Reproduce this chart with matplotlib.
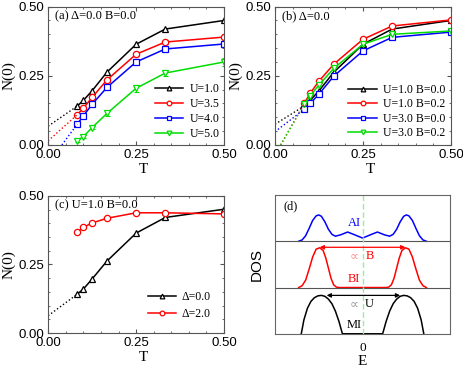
import numpy as np
import matplotlib
matplotlib.use('Agg')
import matplotlib.pyplot as plt
from matplotlib.ticker import MultipleLocator

plt.rcParams['font.family'] = ['Liberation Serif', 'DejaVu Serif']

# temperatures (same grid for every curve)
T = [0.083, 0.1, 0.125, 0.167, 0.25, 0.333, 0.5]

# panel (a): Delta=0, B=0
a_labels = ['U=1.0', 'U=3.5', 'U=4.0', 'U=5.0']
a_u10 = [0.141, 0.161, 0.196, 0.263, 0.364, 0.419, 0.450]
a_u35 = [0.110, 0.133, 0.172, 0.235, 0.328, 0.372, 0.390]
a_u40 = [0.076, 0.105, 0.147, 0.208, 0.300, 0.347, 0.365]
a_u50 = [0.016, 0.030, 0.063, 0.114, 0.205, 0.260, 0.300]
a_err35 = [0.004, 0.004, 0.005, 0.006, 0.007, 0.007, 0.008]
a_err40 = [0.005, 0.005, 0.006, 0.007, 0.009, 0.009, 0.011]
a_err50 = [0.006, 0.006, 0.007, 0.009, 0.012, 0.011, 0.013]
# dotted extrapolations: (T0, N0) start points
a_ext = [(0.0, 0.068), (0.0, 0.015), (0.039, 0.0)]

# panel (b): Delta=0
b_labels = ['U=1.0 B=0.0', 'U=1.0 B=0.2', 'U=3.0 B=0.0', 'U=3.0 B=0.2']
b_u10b0 = [0.141, 0.161, 0.196, 0.263, 0.364, 0.419, 0.450]
b_u10b2 = [0.150, 0.187, 0.231, 0.292, 0.382, 0.430, 0.452]
b_u30b0 = [0.129, 0.150, 0.184, 0.249, 0.340, 0.389, 0.408]
b_u30b2 = [0.147, 0.178, 0.217, 0.277, 0.364, 0.400, 0.412]
b_ext = [(0.0, 0.075), (0.016, 0.0), (0.0, 0.048), (0.016, 0.0)]

# panel (c): U=1.0, B=0
c_labels = ['Δ=0.0', 'Δ=2.0']
c_d0 = [0.142, 0.160, 0.197, 0.262, 0.364, 0.421, 0.451]
c_d2 = [0.367, 0.385, 0.401, 0.418, 0.438, 0.438, 0.434]
c_ext = (0.0, 0.063)

# panel (d): schematic DOS
blue_E = [-0.73, -0.69, -0.65, -0.61, -0.57, -0.53, -0.50, -0.47, -0.43, -0.39, -0.35,
          -0.31, -0.25, -0.17, -0.09, 0.0,
          0.09, 0.17, 0.25, 0.31, 0.35, 0.39, 0.43, 0.47, 0.50, 0.53, 0.57, 0.61,
          0.65, 0.69, 0.73]
blue_D = [2.00, 2.03, 2.12, 2.28, 2.45, 2.55, 2.57, 2.54, 2.42, 2.26, 2.15,
          2.11, 2.14, 2.20, 2.14, 2.07,
          2.14, 2.20, 2.14, 2.11, 2.15, 2.26, 2.42, 2.54, 2.57, 2.55, 2.45, 2.28,
          2.12, 2.03, 2.00]
red_E = [-0.73, -0.69, -0.65, -0.61, -0.57, -0.53, -0.49, -0.45, -0.42, -0.39, -0.36,
         -0.33, -0.30, -0.27,
         0.27, 0.30, 0.33, 0.36, 0.39, 0.42, 0.45, 0.49, 0.53, 0.57, 0.61, 0.65,
         0.69, 0.73]
red_D = [1.00, 1.04, 1.16, 1.40, 1.66, 1.83, 1.86, 1.80, 1.64, 1.42, 1.20,
         1.06, 1.01, 1.00,
         1.00, 1.01, 1.06, 1.20, 1.42, 1.64, 1.80, 1.86, 1.83, 1.66, 1.40, 1.16,
         1.04, 1.00]
black_E = [-0.70, -0.67, -0.63, -0.59, -0.55, -0.51, -0.47, -0.43, -0.39, -0.35,
           -0.31, -0.27, -0.23,
           0.23, 0.27, 0.31, 0.35, 0.39, 0.43, 0.47, 0.51, 0.55, 0.59, 0.63, 0.67, 0.70]
black_D = [0.00, 0.30, 0.55, 0.70, 0.78, 0.82, 0.83, 0.81, 0.75, 0.65,
           0.49, 0.27, 0.00,
           0.00, 0.27, 0.49, 0.65, 0.75, 0.81, 0.83, 0.82, 0.78, 0.70, 0.55, 0.30, 0.00]

fig = plt.figure(figsize=(4.63, 3.68), dpi=100)
ax_a = fig.add_axes([0.104, 0.606, 0.380, 0.376])
ax_b = fig.add_axes([0.594, 0.606, 0.380, 0.376])
ax_c = fig.add_axes([0.104, 0.095, 0.380, 0.373])
ax_d = fig.add_axes([0.594, 0.093, 0.378, 0.377])

tick_font = {'family': 'Liberation Sans', 'size': 9.5}
mk = dict(markersize=4.5, markerfacecolor='white', markeredgewidth=0.9, linewidth=1.1)
leg = dict(loc='lower right', fontsize=8.5, frameon=False, handlelength=2.4,
           handletextpad=0.5, markerscale=0.75)


def style_T_axes(ax, ylabel=True):
    ax.set_xlim(0, 0.5)
    ax.set_ylim(0, 0.5)
    ax.set_xticks([0, 0.25, 0.5])
    ax.set_yticks([0, 0.25, 0.5])
    ax.xaxis.set_minor_locator(MultipleLocator(0.05))
    ax.yaxis.set_minor_locator(MultipleLocator(0.05))
    ax.tick_params(which='both', direction='in', top=True, right=True, color='#555555')
    ax.tick_params(which='major', length=3, pad=3)
    ax.tick_params(which='minor', length=1.5)
    ax.set_xticklabels(['0.00', '0.25', '0.50'], fontdict=tick_font)
    ax.set_yticklabels(['0.00', '0.25', '0.50'], fontdict=tick_font)
    for s in ax.spines.values():
        s.set_color('#555555')
        s.set_linewidth(0.8)
    ax.set_xlabel('T', fontsize=11, labelpad=0)
    ax.xaxis.set_label_coords(0.54, -0.13)
    if ylabel:
        ax.set_ylabel('N(0)', fontsize=11, labelpad=2)


def dotted(ax, start, first_T, first_N, color):
    ax.plot([start[0], first_T], [start[1], first_N], ':', color=color, linewidth=1.0)


# ---- panel (a)
a_cols = ['black', 'red', 'blue', '#00dd00']
a_marks = ['^', 'o', 's', 'v']
a_series = [a_u10, a_u35, a_u40, a_u50]
a_errs = [None, a_err35, a_err40, a_err50]
for ys, err, c, m, lab in zip(a_series, a_errs, a_cols, a_marks, a_labels):
    if err is not None:
        ax_a.errorbar(T, ys, yerr=err, fmt='none', ecolor=c, capsize=1.8,
                      elinewidth=0.8, capthick=0.8)
    ax_a.plot(T, ys, color=c, marker=m, label=lab, **mk)
for st, ys, c in zip(a_ext, a_series[:3], a_cols[:3]):
    dotted(ax_a, st, T[0], ys[0], c)
style_T_axes(ax_a)
ax_a.text(0.04, 0.93, '(a) Δ=0.0 B=0.0', transform=ax_a.transAxes, fontsize=9, va='center')
ax_a.legend(labelspacing=0.25, borderaxespad=0.0, **leg)

# ---- panel (b)
b_cols = ['black', 'red', 'blue', '#00dd00']
b_marks = ['^', 'o', 's', 'v']
b_series = [b_u10b0, b_u10b2, b_u30b0, b_u30b2]
for ys, c, m, lab in zip(b_series, b_cols, b_marks, b_labels):
    ax_b.plot(T, ys, color=c, marker=m, label=lab, **mk)
for st, ys, c in zip(b_ext, b_series, b_cols):
    dotted(ax_b, st, T[0], ys[0], c)
style_T_axes(ax_b)
ax_b.text(0.04, 0.93, '(b) Δ=0.0', transform=ax_b.transAxes, fontsize=9, va='center')
ax_b.legend(labelspacing=0.2, borderaxespad=0.1, **leg)

# ---- panel (c)
ax_c.plot(T, c_d0, color='black', marker='^', label=c_labels[0], **mk)
ax_c.plot(T, c_d2, color='red', marker='o', label=c_labels[1], **mk)
dotted(ax_c, c_ext, T[0], c_d0[0], 'black')
style_T_axes(ax_c)
ax_c.text(0.04, 0.93, '(c) U=1.0 B=0.0', transform=ax_c.transAxes, fontsize=9, va='center')
ax_c.legend(labelspacing=0.4, borderaxespad=0.7, **leg)

# ---- panel (d)
ax_d.set_xlim(-1, 1)
ax_d.set_ylim(0, 3)
ax_d.plot(blue_E, blue_D, color='blue', linewidth=1.1)
ax_d.plot(red_E, red_D, color='red', linewidth=1.1)
ax_d.plot(black_E, black_D, color='black', linewidth=1.1)
ax_d.axhline(1, color='#555555', linewidth=0.8)
ax_d.axhline(2, color='#555555', linewidth=0.8)
ax_d.axvline(0, color='#99ee99', linestyle='--', linewidth=1.0, dashes=(4, 2))
ax_d.annotate('', xy=(-0.49, 1.87), xytext=(0.49, 1.87),
              arrowprops=dict(arrowstyle='<|-|>', color='red', lw=0.9, mutation_scale=6,
                              shrinkA=0, shrinkB=0))
ax_d.annotate('', xy=(-0.41, 0.83), xytext=(0.43, 0.83),
              arrowprops=dict(arrowstyle='<|-|>', color='black', lw=0.9, mutation_scale=6,
                              shrinkA=0, shrinkB=0))
ax_d.text(-0.09, 2.40, 'AI', color='blue', fontsize=9, ha='center', va='center')
ax_d.text(-0.10, 1.69, '∝', color='#ff9090', fontsize=9, ha='center', va='center',
          family=['DejaVu Sans'])
ax_d.text(0.08, 1.69, 'B', color='red', fontsize=9, ha='center', va='center')
ax_d.text(-0.10, 1.19, 'BI', color='red', fontsize=9, ha='center', va='center')
ax_d.text(-0.10, 0.65, '∝', color='#999999', fontsize=9, ha='center', va='center',
          family=['DejaVu Sans'])
ax_d.text(0.08, 0.65, 'U', color='black', fontsize=9, ha='center', va='center')
ax_d.text(-0.10, 0.19, 'MI', color='black', fontsize=9, ha='center', va='center')
ax_d.text(0.05, 0.92, '(d)', transform=ax_d.transAxes, fontsize=9, va='center')
ax_d.set_yticks([])
ax_d.set_xticks([0])
ax_d.set_xticklabels(['0'], fontsize=9.5)
ax_d.tick_params(axis='x', length=0, pad=6)
for s in ax_d.spines.values():
    s.set_color('#666666')
    s.set_linewidth(0.8)
ax_d.set_xlabel('E', fontsize=11, labelpad=1)
ax_d.set_ylabel('DOS', fontsize=11, family=['Liberation Sans'], labelpad=8)

fig.savefig('out.png', dpi=100)
